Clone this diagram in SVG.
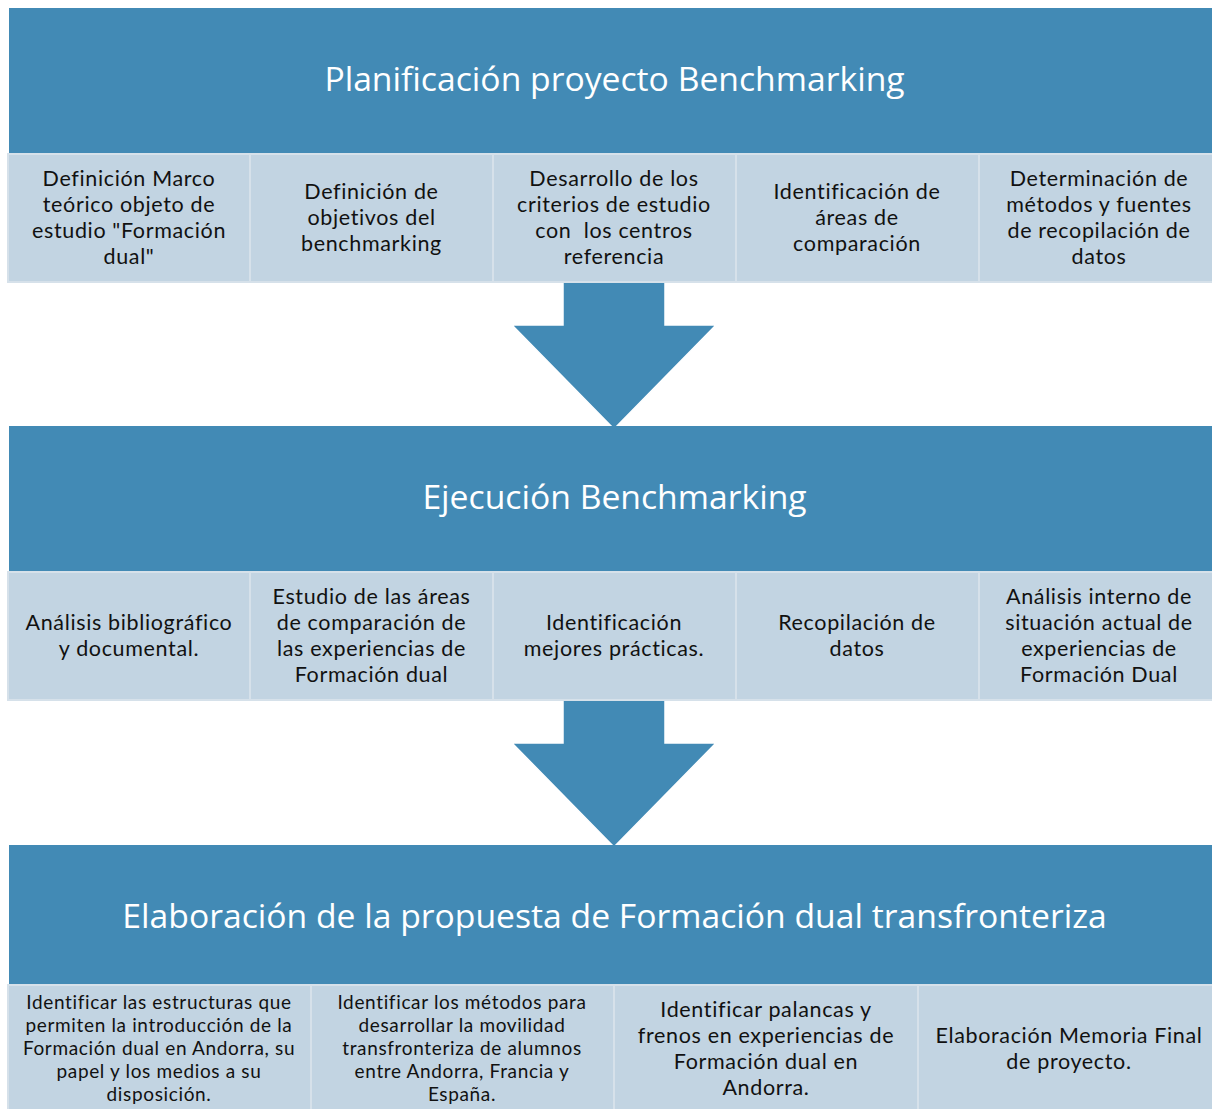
<svg xmlns="http://www.w3.org/2000/svg" width="1212" height="1109" viewBox="0 0 1212 1109">
<style>
.hdr{fill:#428ab5}
.sub{fill:#c2d4e2;stroke:#d6e1ea;stroke-width:2}
.arrow{fill:#428ab5;stroke:#ffffff;stroke-width:1.5;stroke-linejoin:miter}
.ht{font-family:"Open Sans","Noto Sans",sans-serif;font-size:33.7px;fill:#ffffff;text-anchor:middle}
.t{font-family:Lato,"Open Sans",sans-serif;font-size:21.5px;letter-spacing:0.65px;fill:#111111;text-anchor:middle}
.s{font-family:Lato,"Open Sans",sans-serif;font-size:19px;letter-spacing:0.65px;fill:#111111;text-anchor:middle}
</style>
<rect width="1212" height="1109" fill="#ffffff"/>
<g id="connectors">
<polygon class="arrow" points="563,282 665,282 665,325 716,325 614,429 512,325 563,325"/>
<polygon class="arrow" points="563,700 665,700 665,743 716,743 614,847 512,743 563,743"/>
</g>
<g id="stage1">
<rect class="hdr" x="9" y="8" width="1212" height="146"/>
<text class="ht" x="614.5" y="91">Planificación proyecto Benchmarking</text>
</g>
<g id="s1a"><rect class="sub" x="8" y="154" width="242" height="128"/>
<text class="t" x="129"><tspan x="129" y="186">Definición Marco</tspan><tspan x="129" y="212">teórico objeto de</tspan><tspan x="129" y="238">estudio "Formación</tspan><tspan x="129" y="264">dual"</tspan></text></g>
<g id="s1b"><rect class="sub" x="250" y="154" width="243" height="128"/>
<text class="t"><tspan x="371.5" y="199">Definición de</tspan><tspan x="371.5" y="225">objetivos del</tspan><tspan x="371.5" y="251">benchmarking</tspan></text></g>
<g id="s1c"><rect class="sub" x="493" y="154" width="243" height="128"/>
<text class="t" xml:space="preserve"><tspan x="614" y="186">Desarrollo de los</tspan><tspan x="614" y="212">criterios de estudio</tspan><tspan x="614" y="238">con  los centros</tspan><tspan x="614" y="264">referencia</tspan></text></g>
<g id="s1d"><rect class="sub" x="736" y="154" width="243" height="128"/>
<text class="t"><tspan x="857" y="199">Identificación de</tspan><tspan x="857" y="225">áreas de</tspan><tspan x="857" y="251">comparación</tspan></text></g>
<g id="s1e"><rect class="sub" x="979" y="154" width="243" height="128"/>
<text class="t"><tspan x="1099" y="186">Determinación de</tspan><tspan x="1099" y="212">métodos y fuentes</tspan><tspan x="1099" y="238">de recopilación de</tspan><tspan x="1099" y="264">datos</tspan></text></g>

<g id="stage2">
<rect class="hdr" x="9" y="426" width="1212" height="146"/>
<text class="ht" x="614.5" y="509">Ejecución Benchmarking</text>
</g>
<g id="s2a"><rect class="sub" x="8" y="572" width="242" height="128"/>
<text class="t"><tspan x="129" y="630">Análisis bibliográfico</tspan><tspan x="129" y="656">y documental.</tspan></text></g>
<g id="s2b"><rect class="sub" x="250" y="572" width="243" height="128"/>
<text class="t"><tspan x="371.5" y="604">Estudio de las áreas</tspan><tspan x="371.5" y="630">de comparación de</tspan><tspan x="371.5" y="656">las experiencias de</tspan><tspan x="371.5" y="682">Formación dual</tspan></text></g>
<g id="s2c"><rect class="sub" x="493" y="572" width="243" height="128"/>
<text class="t"><tspan x="614" y="630">Identificación</tspan><tspan x="614" y="656">mejores prácticas.</tspan></text></g>
<g id="s2d"><rect class="sub" x="736" y="572" width="243" height="128"/>
<text class="t"><tspan x="857" y="630">Recopilación de</tspan><tspan x="857" y="656">datos</tspan></text></g>
<g id="s2e"><rect class="sub" x="979" y="572" width="243" height="128"/>
<text class="t"><tspan x="1099" y="604">Análisis interno de</tspan><tspan x="1099" y="630">situación actual de</tspan><tspan x="1099" y="656">experiencias de</tspan><tspan x="1099" y="682">Formación Dual</tspan></text></g>

<g id="stage3">
<rect class="hdr" x="9" y="845" width="1212" height="140"/>
<text class="ht" x="614.5" y="928">Elaboración de la propuesta de Formación dual transfronteriza</text>
</g>
<g id="s3a"><rect class="sub" x="8" y="985" width="303" height="130"/>
<text class="s"><tspan x="159" y="1009">Identificar las estructuras que</tspan><tspan x="159" y="1032">permiten la introducción de la</tspan><tspan x="159" y="1055">Formación dual en Andorra, su</tspan><tspan x="159" y="1078">papel y los medios a su</tspan><tspan x="159" y="1101">disposición.</tspan></text></g>
<g id="s3b"><rect class="sub" x="311" y="985" width="303" height="130"/>
<text class="s"><tspan x="462" y="1009">Identificar los métodos para</tspan><tspan x="462" y="1032">desarrollar la movilidad</tspan><tspan x="462" y="1055">transfronteriza de alumnos</tspan><tspan x="462" y="1078">entre Andorra, Francia y</tspan><tspan x="462" y="1101">España.</tspan></text></g>
<g id="s3c"><rect class="sub" x="614" y="985" width="304" height="130"/>
<text class="t"><tspan x="766" y="1017">Identificar palancas y</tspan><tspan x="766" y="1043">frenos en experiencias de</tspan><tspan x="766" y="1069">Formación dual en</tspan><tspan x="766" y="1095">Andorra.</tspan></text></g>
<g id="s3d"><rect class="sub" x="918" y="985" width="304" height="130"/>
<text class="t"><tspan x="1069" y="1043">Elaboración Memoria Final</tspan><tspan x="1069" y="1069">de proyecto.</tspan></text></g>
</svg>
